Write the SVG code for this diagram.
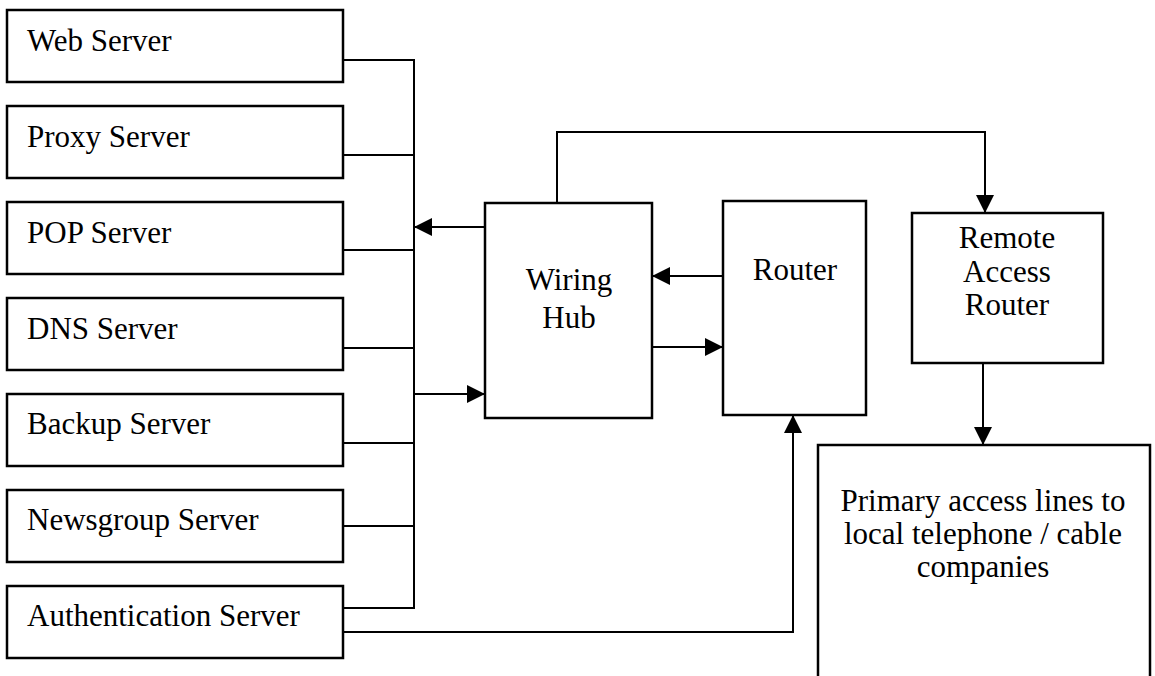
<svg xmlns="http://www.w3.org/2000/svg" width="1155" height="676" viewBox="0 0 1155 676">
<style>
.box{fill:#fff;stroke:#000;stroke-width:2.5}
.ln{fill:none;stroke:#000;stroke-width:2}
.t{font-family:"Liberation Serif","Times New Roman",serif;font-size:31px;fill:#000}
.c{text-anchor:middle}
</style>
<defs>
<marker id="ah" markerUnits="userSpaceOnUse" markerWidth="18" markerHeight="18" refX="17" refY="9" orient="auto" viewBox="0 0 18 18">
<path d="M0,0 L18,9 L0,18 z" fill="#000"/>
</marker>
</defs>
<rect width="1155" height="676" fill="#fff"/>
<g id="connectors">
<path class="ln" d="M343,60 H414 V608 H343"/>
<path class="ln" d="M343,155 H414"/>
<path class="ln" d="M343,250 H414"/>
<path class="ln" d="M343,348 H414"/>
<path class="ln" d="M343,443 H414"/>
<path class="ln" d="M343,526 H414"/>
<path class="ln" d="M485,227 H415" marker-end="url(#ah)"/>
<path class="ln" d="M414,394 H484" marker-end="url(#ah)"/>
<path class="ln" d="M723,276 H653" marker-end="url(#ah)"/>
<path class="ln" d="M652,347 H722" marker-end="url(#ah)"/>
<path class="ln" d="M557,203 V132 H985 V212" marker-end="url(#ah)"/>
<path class="ln" d="M983,363 V444" marker-end="url(#ah)"/>
<path class="ln" d="M343,632 H793 V416" marker-end="url(#ah)"/>
</g>
<g id="web-server"><rect class="box" x="7" y="10" width="336" height="72"/><text class="t" x="27" y="51">Web Server</text></g>
<g id="proxy-server"><rect class="box" x="7" y="106" width="336" height="72"/><text class="t" x="27" y="147">Proxy Server</text></g>
<g id="pop-server"><rect class="box" x="7" y="202" width="336" height="72"/><text class="t" x="27" y="243">POP Server</text></g>
<g id="dns-server"><rect class="box" x="7" y="298" width="336" height="72"/><text class="t" x="27" y="339">DNS Server</text></g>
<g id="backup-server"><rect class="box" x="7" y="394" width="336" height="72"/><text class="t" x="27" y="434">Backup Server</text></g>
<g id="newsgroup-server"><rect class="box" x="7" y="490" width="336" height="72"/><text class="t" x="27" y="530">Newsgroup Server</text></g>
<g id="authentication-server"><rect class="box" x="7" y="586" width="336" height="72"/><text class="t" x="27" y="626">Authentication Server</text></g>
<g id="wiring-hub"><rect class="box" x="485" y="203" width="167" height="215"/><text class="t c" x="569" y="290">Wiring</text><text class="t c" x="569" y="328">Hub</text></g>
<g id="router"><rect class="box" x="723" y="201" width="143" height="214"/><text class="t c" x="795" y="280">Router</text></g>
<g id="remote-access-router"><rect class="box" x="912" y="213" width="191" height="150"/><text class="t c" x="1007" y="248">Remote</text><text class="t c" x="1007" y="282">Access</text><text class="t c" x="1007" y="315">Router</text></g>
<g id="primary-access-lines"><rect class="box" x="818" y="445" width="332" height="240"/><text class="t c" x="983" y="511">Primary access lines to</text><text class="t c" x="983" y="544">local telephone / cable</text><text class="t c" x="983" y="577">companies</text></g>
</svg>
